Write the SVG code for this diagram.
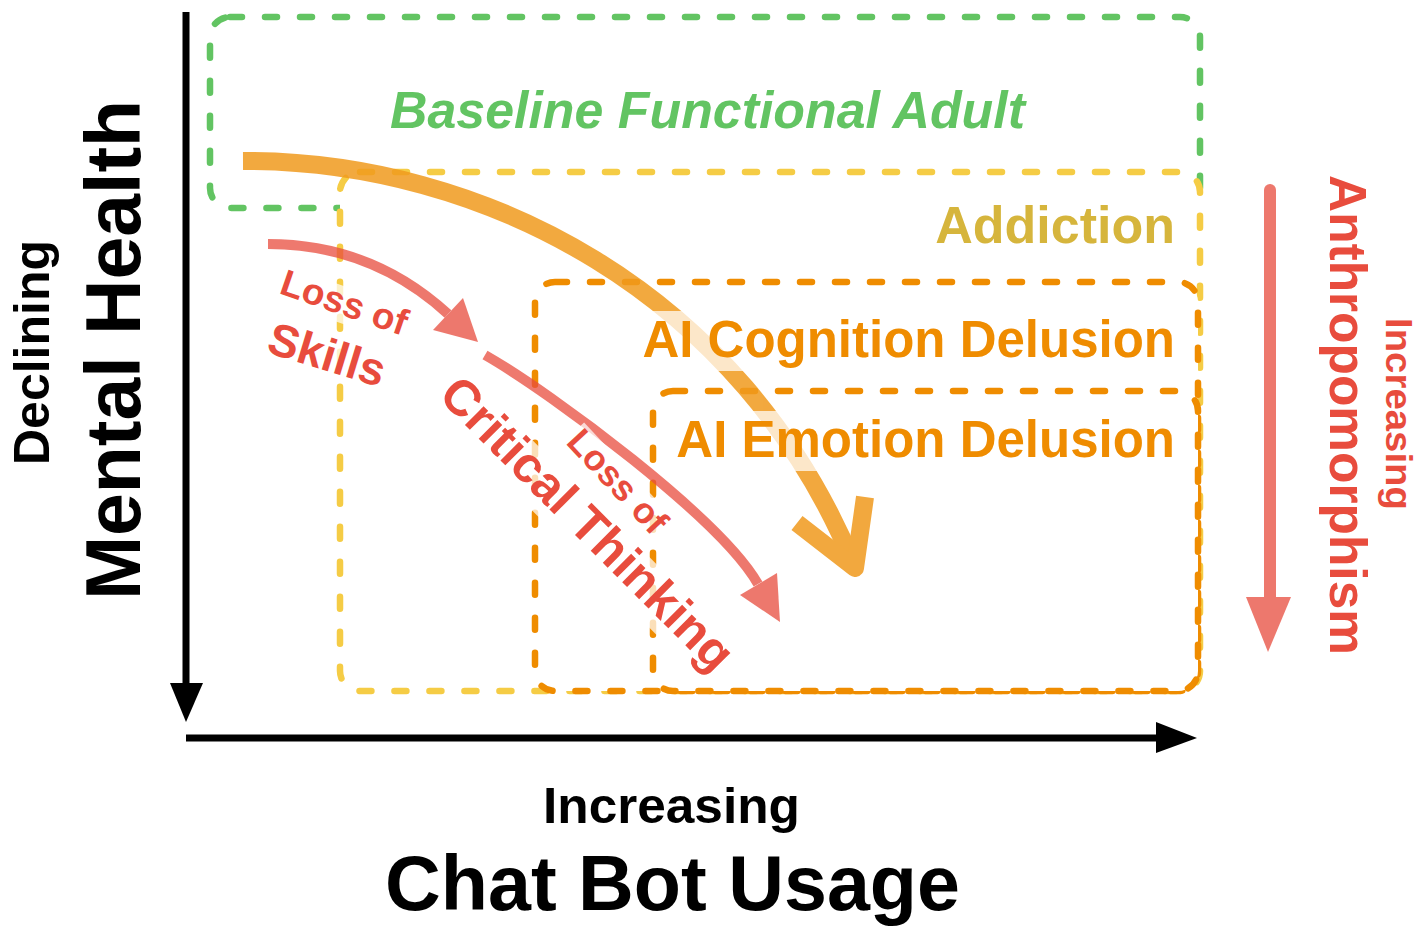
<svg xmlns="http://www.w3.org/2000/svg" width="1420" height="928" viewBox="0 0 1420 928">
<style>
.box{fill:#fff;stroke-width:6.5;stroke-dasharray:12 23;stroke-linecap:round}
.t{font-family:"Liberation Sans",Arial,sans-serif;font-weight:bold}
.red{fill:#e84c3d}
.org{fill:#ef8c00}
.bg{fill:#fff;opacity:0.72}
</style>
<rect width="1420" height="928" fill="#fff"/>
<g id="baseline-box"><rect class="box" x="210" y="17" width="990" height="191" rx="20" stroke="#62c462"/></g>
<g id="addiction-box"><rect class="box" x="340" y="172" width="860" height="519" rx="20" stroke="#f5cc45"/></g>
<g id="cognition-box"><rect class="box" x="535" y="282" width="663" height="409" rx="20" stroke="#ef8c00"/></g>
<g id="emotion-box"><rect class="box" x="653" y="391" width="545" height="300" rx="20" stroke="#ef8c00"/></g>

<g id="connectors">
  <g id="axes" stroke="#000" fill="#000">
    <line x1="186" y1="12" x2="186" y2="690" stroke-width="7"/>
    <polygon points="170,683 203,683 186,722" stroke="none"/>
    <line x1="186" y1="738" x2="1160" y2="738" stroke-width="7"/>
    <polygon points="1156,722 1156,753 1197,738" stroke="none"/>
  </g>
  <g id="decline-arrow" opacity="0.85" fill="none" stroke="#f09a1d" stroke-width="18" stroke-linejoin="round">
    <path d="M243,161 C480,160 742,290 855,568"/>
    <path d="M797,523 L855,568 L865,497"/>
  </g>
  <g id="skills-arrow" opacity="0.75" fill="#e84c3d" stroke="#e84c3d">
    <path d="M268,244 C340,244 400,270 448,314" fill="none" stroke-width="10"/>
    <polygon points="433,330 463,298 478,342" stroke="none"/>
  </g>
  <g id="thinking-arrow" opacity="0.75" fill="#e84c3d" stroke="#e84c3d">
    <path d="M485,355 C553,394 721,519 758,584" fill="none" stroke-width="10"/>
    <polygon points="740,595 777,573 780,622" stroke="none"/>
  </g>
  <g id="anthro-arrow" opacity="0.75" fill="#e84c3d" stroke="#e84c3d">
    <line x1="1270" y1="190" x2="1270" y2="600" stroke-width="12" stroke-linecap="round"/>
    <polygon points="1246,597 1291,597 1268,652" stroke="none"/>
  </g>
</g>

<g id="label-baseline">
  <text class="t" x="390" y="128" font-size="52" font-style="italic" fill="#62c462" textLength="635" lengthAdjust="spacingAndGlyphs">Baseline Functional Adult</text>
</g>
<g id="label-addiction">
  <text class="t" x="1175" y="243" font-size="52" fill="#d6b53c" text-anchor="end">Addiction</text>
</g>
<g id="label-cognition">
  <rect class="bg" x="636" y="311" width="542" height="60"/>
  <text class="t org" x="1175" y="357" font-size="51" text-anchor="end">AI Cognition Delusion</text>
</g>
<g id="label-emotion">
  <rect class="bg" x="670" y="411" width="508" height="60"/>
  <text class="t org" x="1175" y="457" font-size="51" text-anchor="end">AI Emotion Delusion</text>
</g>
<g id="label-loss-skills">
  <g transform="translate(278,293) rotate(19)">
    <rect class="bg" x="-2" y="-28" width="136" height="36"/>
    <text class="t red" x="0" y="0" font-size="37">Loss of</text>
  </g>
  <g transform="translate(265,352) rotate(17)">
    <rect class="bg" x="-2" y="-36" width="124" height="40"/>
    <text class="t red" x="0" y="0" font-size="46">Skills</text>
  </g>
</g>
<g id="label-loss-thinking">
  <g transform="translate(565,443) rotate(47)">
    <rect class="bg" x="-2" y="-28" width="130" height="36"/>
    <text class="t red" x="0" y="0" font-size="36">Loss of</text>
  </g>
  <g transform="translate(437,397) rotate(45)">
    <rect class="bg" x="-2" y="-37" width="396" height="50"/>
    <text class="t red" x="0" y="0" font-size="50">Critical Thinking</text>
  </g>
</g>
<g id="label-y-axis">
  <text class="t" transform="translate(49,465) rotate(-90)" font-size="50" fill="#000">Declining</text>
  <text class="t" transform="translate(140,600) rotate(-90)" font-size="77" fill="#000" textLength="500" lengthAdjust="spacingAndGlyphs">Mental Health</text>
</g>
<g id="label-x-axis">
  <text class="t" x="543" y="823" font-size="50" fill="#000" textLength="257" lengthAdjust="spacingAndGlyphs">Increasing</text>
  <text class="t" x="385" y="910" font-size="77" fill="#000" textLength="575" lengthAdjust="spacingAndGlyphs">Chat Bot Usage</text>
</g>
<g id="label-anthro">
  <text class="t red" transform="translate(1330,175) rotate(90)" font-size="52" textLength="480" lengthAdjust="spacingAndGlyphs">Anthropomorphism</text>
  <text class="t red" transform="translate(1386,318) rotate(90)" font-size="37" textLength="192" lengthAdjust="spacingAndGlyphs">Increasing</text>
</g>
</svg>
